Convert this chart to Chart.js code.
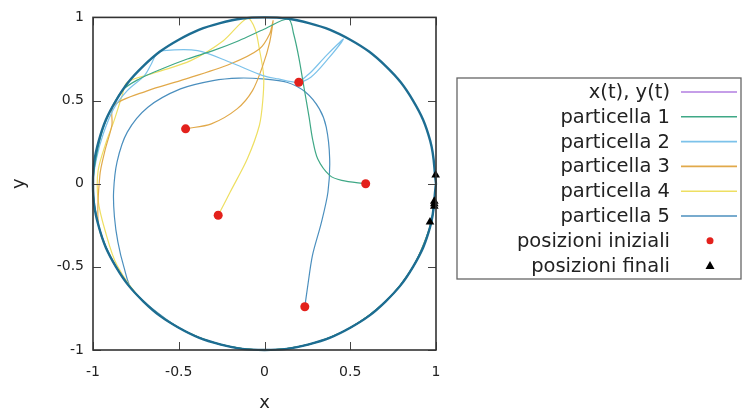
<!DOCTYPE html>
<html>
<head>
<meta charset="utf-8">
<script src="https://cdn.jsdelivr.net/npm/chart.js@4"></script>
<style>
  html, body { margin: 0; padding: 0; background: #fff; }
  canvas { display: block; }
</style>
</head>
<body>
<canvas id="grafico" width="742" height="416"></canvas>
<script>
// valori (coordinate x, y)
const valoriTick = [-1, -0.5, 0, 0.5, 1];
const testoTick = ['-1', '-0.5', '0', '0.5', '1'];

const xtyt = [];

// bordo del dominio circolare
const cerchio = [[1,0],[0.966,0.259],[0.866,0.5],[0.707,0.707],[0.5,0.866],[0.259,0.966],[0,1],
  [-0.259,0.966],[-0.5,0.866],[-0.707,0.707],[-0.866,0.5],[-0.966,0.259],[-1,0],
  [-0.966,-0.259],[-0.866,-0.5],[-0.707,-0.707],[-0.5,-0.866],[-0.259,-0.966],[0,-1],
  [0.259,-0.966],[0.5,-0.866],[0.707,-0.707],[0.866,-0.5],[0.966,-0.259],[1,0]];

// tratto finale lungo il bordo (metà inferiore)
const arco = [[-1,0],[-0.966,-0.259],[-0.866,-0.5],[-0.707,-0.707],[-0.5,-0.866],[-0.259,-0.966],
  [0,-1],[0.259,-0.966],[0.5,-0.866],[0.707,-0.707],[0.866,-0.5],[0.966,-0.259]];

const particella1 = [[0.59,0],[0.45,0.02],[0.38,0.05],[0.31,0.15],[0.28,0.27],[0.26,0.4],[0.23,0.58],
  [0.2,0.76],[0.17,0.9],[0.14,0.99],[0,0.93],[-0.15,0.86],[-0.3,0.8],[-0.45,0.75],[-0.6,0.69],
  [-0.73,0.63],[-0.83,0.56],[-0.92,0.39],[-0.97,0.22]].concat(arco, [[0.99,-0.105]]);

const particella2 = [[0.2,0.61],[0.27,0.67],[0.36,0.77],[0.46,0.87],[0.37,0.75],[0.27,0.64],[0.19,0.61],
  [0.08,0.63],[-0.01,0.65],[-0.2,0.73],[-0.39,0.8],[-0.59,0.8],[-0.63,0.78],[-0.66,0.72],[-0.7,0.65],
  [-0.8,0.56],[-0.88,0.45],[-0.94,0.3],[-0.98,0.15]].concat(arco, [[0.99,-0.135]]);

const particella3 = [[-0.46,0.33],[-0.31,0.36],[-0.16,0.45],[-0.07,0.56],[-0.01,0.71],[0.03,0.85],
  [0.05,0.98],[0.03,0.9],[-0.03,0.81],[-0.2,0.72],[-0.49,0.62],[-0.68,0.56],[-0.88,0.47],
  [-0.89,0.35],[-0.93,0.2],[-0.96,0.05]].concat(arco.slice(1), [[0.965,-0.23]]);

const particella4 = [[-0.27,-0.19],[-0.2,-0.05],[-0.1,0.15],[-0.03,0.35],[-0.01,0.5],[-0.005,0.65],
  [-0.03,0.81],[-0.055,0.93],[-0.1,0.995],[-0.24,0.86],[-0.43,0.74],[-0.63,0.67],[-0.8,0.61],
  [-0.83,0.53],[-0.88,0.37],[-0.92,0.26],[-0.97,0.08],[-0.97,-0.1],[-0.93,-0.28],[-0.86,-0.49]]
  .concat(arco.slice(3), [[0.99,-0.12]]);

const particella5 = [[0.235,-0.74],[0.25,-0.63],[0.28,-0.43],[0.33,-0.24],[0.37,-0.05],[0.38,0.15],
  [0.36,0.34],[0.32,0.45],[0.24,0.55],[0.13,0.61],[-0.01,0.63],[-0.15,0.635],[-0.3,0.62],
  [-0.49,0.57],[-0.68,0.46],[-0.8,0.31],[-0.86,0.13],[-0.88,-0.05],[-0.875,-0.2],[-0.855,-0.35],
  [-0.82,-0.5],[-0.77,-0.64]].concat(arco.slice(4), [[1,0],[0.998,0.053]]);

const posIniziali = [[0.59,0],[0.2,0.61],[-0.46,0.33],[-0.27,-0.19],[0.235,-0.74]];
const posFinali = [[0.998,0.053],[0.99,-0.105],[0.99,-0.12],[0.99,-0.135],[0.965,-0.23]];

const etichette = ['x(t), y(t)', 'particella 1', 'particella 2', 'particella 3', 'particella 4',
  'particella 5', 'posizioni iniziali', 'posizioni finali'];
const colori = ['#b27ee0', '#3fa886', '#7cc2ea', '#e1a94a', '#eedf62', '#4b8fbe', '#e3211c', '#000000'];

function toXY(arr) {
  return arr.map(p => ({x: p[0], y: p[1]}));
}

const traiettorie = [xtyt, particella1, particella2, particella3, particella4, particella5];

const datasets = traiettorie.map((d, i) => ({
  label: etichette[i],
  data: toXY(d),
  showLine: true,
  borderColor: colori[i],
  borderWidth: 1.2,
  pointRadius: 0,
  tension: 0.3,
  order: 3,
  tipo: 'linea'
}));

datasets.push({
  label: 'bordo',
  data: toXY(cerchio),
  showLine: true,
  borderColor: '#1d6d92',
  borderWidth: 2.4,
  pointRadius: 0,
  tension: 0.4,
  clip: false,
  order: 2,
  tipo: 'nascosto'
});

datasets.push({
  label: etichette[6],
  data: toXY(posIniziali),
  showLine: false,
  pointStyle: 'circle',
  pointRadius: 4.5,
  backgroundColor: colori[6],
  borderColor: colori[6],
  borderWidth: 0,
  order: 1,
  tipo: 'punto'
});

datasets.push({
  label: etichette[7],
  data: toXY(posFinali),
  showLine: false,
  pointStyle: 'triangle',
  pointRadius: 5,
  backgroundColor: colori[7],
  borderColor: colori[7],
  borderWidth: 0,
  clip: false,
  order: 0,
  tipo: 'punto'
});

// cornice e tacche interne come in gnuplot
const cornice = {
  id: 'cornice',
  afterDatasetsDraw(chart) {
    const {ctx, chartArea: a, scales} = chart;
    ctx.save();
    ctx.strokeStyle = '#444';
    ctx.lineWidth = 1;
    const t = 8;
    ctx.beginPath();
    valoriTick.forEach(v => {
      const px = Math.round(scales.x.getPixelForValue(v)) + 0.5;
      const py = Math.round(scales.y.getPixelForValue(v)) + 0.5;
      ctx.moveTo(px, a.bottom); ctx.lineTo(px, a.bottom - t);
      ctx.moveTo(px, a.top); ctx.lineTo(px, a.top + t);
      ctx.moveTo(a.left, py); ctx.lineTo(a.left + t, py);
      ctx.moveTo(a.right, py); ctx.lineTo(a.right - t, py);
    });
    ctx.stroke();
    ctx.lineWidth = 1.6;
    ctx.strokeStyle = '#333';
    ctx.strokeRect(a.left, a.top, a.right - a.left, a.bottom - a.top);
    ctx.restore();
  }
};

// legenda con testo a destra allineato e campione a destra
const legenda = {
  id: 'legenda',
  afterDraw(chart) {
    const ctx = chart.ctx;
    const voci = chart.data.datasets.filter(d => d.tipo !== 'nascosto');
    const x0 = 457, y0 = 78, x1 = 741, y1 = 279;
    ctx.save();
    ctx.fillStyle = '#fff';
    ctx.fillRect(x0, y0, x1 - x0, y1 - y0);
    ctx.strokeStyle = '#666';
    ctx.lineWidth = 1.3;
    ctx.strokeRect(x0, y0, x1 - x0, y1 - y0);
    ctx.font = '19.5px "DejaVu Sans"';
    ctx.textAlign = 'right';
    ctx.textBaseline = 'middle';
    voci.forEach((d, i) => {
      const y = 92 + i * 24.8;
      ctx.fillStyle = '#222';
      ctx.fillText(d.label, 670, y + 1);
      if (d.tipo === 'linea') {
        ctx.strokeStyle = d.borderColor;
        ctx.lineWidth = 1.6;
        ctx.beginPath();
        ctx.moveTo(681, y); ctx.lineTo(737, y);
        ctx.stroke();
      } else if (d.pointStyle === 'circle') {
        ctx.fillStyle = d.backgroundColor;
        ctx.beginPath();
        ctx.arc(710, y, 3.5, 0, Math.PI * 2);
        ctx.fill();
      } else {
        ctx.fillStyle = d.backgroundColor;
        ctx.beginPath();
        ctx.moveTo(710, y - 4.5); ctx.lineTo(714.5, y + 3.5); ctx.lineTo(705.5, y + 3.5);
        ctx.closePath();
        ctx.fill();
      }
    });
    ctx.restore();
  }
};

const ctx = document.getElementById('grafico').getContext('2d');
new Chart(ctx, {
  type: 'scatter',
  data: { datasets: datasets },
  options: {
    responsive: false,
    animation: false,
    devicePixelRatio: 1,
    layout: { padding: { left: 0, right: 306, top: 8, bottom: 0 } },
    plugins: { legend: { display: false }, tooltip: { enabled: false } },
    scales: {
      x: {
        type: 'linear', min: -1, max: 1,
        afterBuildTicks: s => { s.ticks = valoriTick.map(v => ({value: v})); },
        afterFit: s => { s.height = 66; },
        grid: { display: false, drawTicks: false },
        border: { display: false },
        ticks: { padding: 14, color: '#222', font: { family: 'DejaVu Sans', size: 14 },
          callback: (v, i) => testoTick[i] },
        title: { display: true, text: 'x', color: '#222', padding: { top: 0, bottom: 2 },
          font: { family: 'DejaVu Sans', size: 18 } }
      },
      y: {
        type: 'linear', min: -1, max: 1,
        afterBuildTicks: s => { s.ticks = valoriTick.map(v => ({value: v})); },
        afterFit: s => { s.width = 93; },
        grid: { display: false, drawTicks: false },
        border: { display: false },
        ticks: { padding: 9, color: '#222', font: { family: 'DejaVu Sans', size: 14 },
          callback: (v, i) => testoTick[i] },
        title: { display: true, text: 'y', color: '#222', padding: { top: 9, bottom: 0 },
          font: { family: 'DejaVu Sans', size: 18 } }
      }
    }
  },
  plugins: [cornice, legenda]
});
</script>
</body>
</html>
